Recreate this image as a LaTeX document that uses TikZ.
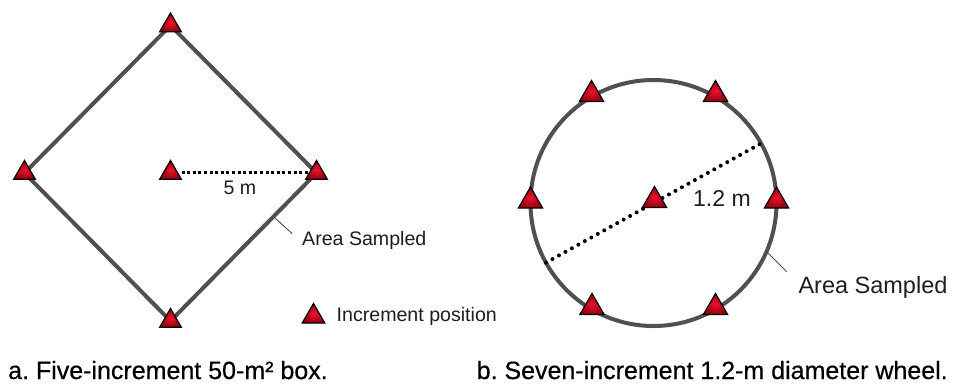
\documentclass[tikz,border=0pt]{standalone}
\usepackage{fontspec}
\setmainfont{Liberation Sans}
\newfontfamily\capfont[FakeBold=0.5]{Liberation Sans}
\usetikzlibrary{shapes.geometric,calc}
\definecolor{trilight}{RGB}{235,20,45}
\definecolor{tridark}{RGB}{150,0,12}
\definecolor{edgegray}{RGB}{80,80,80}
\definecolor{labelgray}{RGB}{30,30,30}
\frenchspacing
\tikzset{
  incr/.style={regular polygon, regular polygon sides=3, inner sep=0pt,
    minimum size=#1, draw=black, line width=1.2pt,
    inner color=trilight, outer color=tridark},
  incr/.default=25pt,
  outline/.style={draw=edgegray, line width=4pt, line join=round},
  sqdots/.style={line width=3.2pt, line cap=butt, dash pattern=on 3pt off 2.6pt},
  rounddots/.style={line width=4pt, line cap=round, dash pattern=on 0pt off 7.4pt},
  leader/.style={draw=edgegray, line width=0.9pt},
  lbl/.style={inner sep=0pt, text=labelgray},
  captext/.style={inner sep=0pt, text=black, anchor=base west, text depth=0pt,
    font=\capfont\fontsize{25}{28}\selectfont}
}
\begin{document}
\begin{tikzpicture}[x=1pt, y=-1pt]
\useasboundingbox[fill=white] (0,0) rectangle (958,384);

% ---------- a. diamond ----------
\coordinate (dT) at (170.5,25.5);
\coordinate (dL) at (24.5,173);
\coordinate (dR) at (316.5,173);
\coordinate (dB) at (170.5,321);
\coordinate (dC) at (170.5,173);
\draw[outline] (dT) -- (dR) -- (dB) -- (dL) -- cycle;
\coordinate (dotA) at ($(dC)+(11,-0.7)$);
\coordinate (dotB) at ($(dR)+(-6,-0.7)$);
\draw[sqdots] (dotA) -- (dotB);
\node[incr] (tT) at (dT) {};
\node[incr] (tL) at (dL) {};
\node[incr] (tR) at (dR) {};
\node[incr] (tB) at (dB) {};
\node[incr] (tC) at (dC) {};
\node[lbl, anchor=base, font=\fontsize{19.6}{22}\selectfont] (five) at (240,194.5) {5 m};
\coordinate (aL1) at (275,218);
\coordinate (aL2) at (292,233.5);
\draw[leader] (aL1) -- (aL2);
\node[lbl, anchor=base west, font=\fontsize{19.6}{22}\selectfont] (areaA) at (302,245) {Area Sampled};
\node[incr=26pt] (legtri) at (313.5,316.5) {};
\node[lbl, anchor=base west, font=\fontsize{19.6}{22}\selectfont] (legtxt) at (336.5,321.5) {Increment position};
\node[captext] (capA) at (8,379) {a. Five-increment 50-m² box.};

% ---------- b. wheel ----------
\coordinate (wC) at (653.5,203);
\draw[outline] (wC) circle[radius=123];
\coordinate (wD1) at (761,143.4);
\coordinate (wD2) at (546,262.6);
\draw[rounddots] (wD2) -- (wD1);
\node[incr=28pt] (w1) at (591.5,94.5) {};
\node[incr=28pt] (w2) at (715.5,94.5) {};
\node[incr=28pt] (w3) at (530.5,201) {};
\node[incr=28pt] (w4) at (776.5,201) {};
\node[incr=28pt] (w5) at (592,307.5) {};
\node[incr=28pt] (w6) at (715.5,307.5) {};
\node[incr=28pt] (wc) at (654.5,200.5) {};
\node[lbl, anchor=base west, font=\fontsize{23}{26}\selectfont] (onetwo) at (693,206.5) {1.2 m};
\coordinate (bL1) at (767.3,252.3);
\coordinate (bL2) at (786.7,271.7);
\draw[leader] (bL1) -- (bL2);
\node[lbl, anchor=base west, font=\fontsize{23.5}{26}\selectfont] (areaB) at (798.3,293.3) {Area Sampled};
\node[captext] (capB) at (476.5,379) {b. Seven-increment 1.2-m diameter wheel.};
\end{tikzpicture}
\end{document}
